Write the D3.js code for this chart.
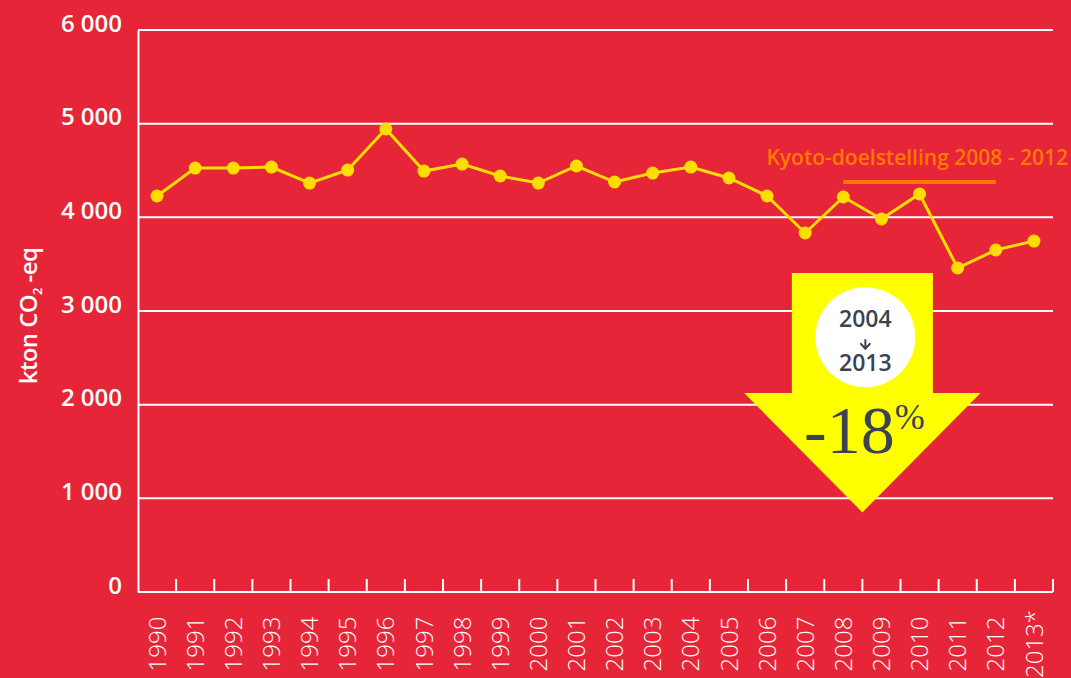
<!DOCTYPE html>
<html>
<head>
<meta charset="utf-8">
<script src="https://cdn.jsdelivr.net/npm/d3@7"></script>
<style>
  html, body { margin: 0; padding: 0; background: #e62538; }
  svg { display: block; }
</style>
</head>
<body>
<div id="chart"></div>
<script>
// data
const years = ["1990","1991","1992","1993","1994","1995","1996","1997","1998","1999","2000","2001",
               "2002","2003","2004","2005","2006","2007","2008","2009","2010","2011","2012","2013*"];
const emissions = [4228, 4526, 4526, 4537, 4366, 4505, 4943, 4494, 4569, 4441, 4366, 4548,
                   4377, 4473, 4537, 4420, 4228, 3833, 4217, 3982, 4249, 3459, 3651, 3747];
const yTicks = [0, 1000, 2000, 3000, 4000, 5000, 6000];
const kyotoTarget = 4377;
const kyotoYears = ["2008", "2012"];
const kyotoLabel = "Kyoto-doelstelling 2008 - 2012";
const changeFrom = "2004", changeTo = "2013", changeLabel = "-18";

const width = 1071, height = 678;
const margin = { top: 30, right: 18, bottom: 86, left: 138 };
const innerW = width - margin.left - margin.right;
const innerH = height - margin.top - margin.bottom;

const svg = d3.select("#chart").append("svg")
    .attr("width", width)
    .attr("height", height);

svg.append("rect").attr("width", width).attr("height", height).attr("fill", "#e62538");

const g = svg.append("g").attr("transform", `translate(${margin.left},${margin.top})`);

const x = d3.scaleBand().domain(years).range([0, innerW]);
const y = d3.scaleLinear().domain([0, 6000]).range([innerH, 0]);
const cx = d => x(d) + x.bandwidth() / 2;

// gridlines
g.selectAll(".grid")
    .data(yTicks.slice(1))
    .enter().append("line")
    .attr("x1", 0).attr("x2", innerW)
    .attr("y1", d => y(d)).attr("y2", d => y(d))
    .attr("stroke", "#fff").attr("stroke-width", 2);

// y axis
const yAxis = g.append("g")
    .call(d3.axisLeft(y).tickValues(yTicks).tickSize(0).tickPadding(16)
        .tickFormat(d => d3.format(",")(d).replace(",", " ")));
yAxis.select(".domain").attr("stroke", "#fff").attr("stroke-width", 2);
yAxis.selectAll("text")
    .attr("fill", "#fff")
    .attr("dy", "0.05em")
    .style("font-family", "'Open Sans', sans-serif")
    .style("font-weight", 600)
    .style("font-size", "24px");

// x axis: ticks between categories
const xAxisG = g.append("g").attr("transform", `translate(0,${innerH})`);
xAxisG.append("line")
    .attr("x1", 0).attr("x2", innerW).attr("y1", 0).attr("y2", 0)
    .attr("stroke", "#fff").attr("stroke-width", 2);
xAxisG.selectAll(".tk")
    .data(years.slice(1).concat(["end"]))
    .enter().append("line")
    .attr("x1", (d, i) => i < years.length - 1 ? x(d) : innerW)
    .attr("x2", (d, i) => i < years.length - 1 ? x(d) : innerW)
    .attr("y1", 0).attr("y2", -13)
    .attr("stroke", "#fff").attr("stroke-width", 2);
xAxisG.selectAll(".lbl")
    .data(years)
    .enter().append("text")
    .attr("transform", d => `translate(${cx(d)},52) rotate(-90)`)
    .attr("text-anchor", "middle")
    .attr("dy", "0.36em")
    .attr("fill", "#fff")
    .style("font-family", "'Open Sans', sans-serif")
    .style("font-weight", 300)
    .style("font-size", "24px")
    .text(d => d);

// y axis title
svg.append("text")
    .attr("transform", "translate(37,316) rotate(-90)")
    .attr("text-anchor", "middle")
    .attr("fill", "#fff")
    .style("font-family", "'Open Sans', sans-serif")
    .style("font-weight", 600)
    .style("font-size", "24px")
    .style("letter-spacing", "-0.6px")
    .html('kton CO<tspan font-size="13px" dy="5">2</tspan><tspan dy="-5"> -eq</tspan>');

// Kyoto target
g.append("line")
    .attr("x1", cx(kyotoYears[0])).attr("x2", cx(kyotoYears[1]))
    .attr("y1", y(kyotoTarget)).attr("y2", y(kyotoTarget))
    .attr("stroke", "#ff7a00").attr("stroke-width", 4);
g.append("text")
    .attr("x", innerW + 15)
    .attr("y", y(kyotoTarget) - 17)
    .attr("text-anchor", "end")
    .attr("fill", "#ff7a00")
    .style("font-family", "'Open Sans', sans-serif")
    .style("font-weight", 600)
    .style("font-size", "21px")
    .text(kyotoLabel);

// big arrow annotation (between 2008 and 2009)
const ax = x("2009");
const bw = x.bandwidth();
const arrowPts = [
    [ax - 1.85 * bw, y(3405)], [ax + 1.85 * bw, y(3405)],
    [ax + 1.85 * bw, y(2124)], [ax + 3.1 * bw, y(2124)],
    [ax, y(850)],
    [ax - 3.1 * bw, y(2124)], [ax - 1.85 * bw, y(2124)]
];
g.append("path")
    .attr("d", d3.line()(arrowPts) + "Z")
    .attr("fill", "#ffff00");

const bc = y(2720);
const bx = ax + 3;
g.append("circle")
    .attr("cx", bx).attr("cy", bc)
    .attr("r", 50).attr("fill", "#fff");
const badge = g.append("text")
    .attr("text-anchor", "middle")
    .attr("fill", "#3b4350")
    .style("font-family", "'Open Sans', sans-serif")
    .style("font-weight", 600)
    .style("font-size", "23px");
badge.append("tspan").attr("x", bx).attr("y", bc - 10).text(changeFrom);
badge.append("tspan").attr("x", bx).attr("y", bc + 34).text(changeTo);
// small down arrow between the years
g.append("path")
    .attr("d", `M${bx},${bc + 2}V${bc + 11}M${bx - 5},${bc + 6}L${bx},${bc + 11.5}L${bx + 5},${bc + 6}`)
    .attr("fill", "none")
    .attr("stroke", "#3b4350")
    .attr("stroke-width", 2);

const pct = g.append("text")
    .attr("x", ax + 2).attr("y", y(1485))
    .attr("text-anchor", "middle")
    .attr("fill", "#3b4350")
    .style("font-family", "'Liberation Serif', serif")
    .style("font-size", "68px")
    .text(changeLabel);
pct.append("tspan")
    .attr("dy", "-24")
    .style("font-size", "36px")
    .text("%");

// line + dots
g.append("path")
    .datum(emissions)
    .attr("fill", "none")
    .attr("stroke", "#ffdd00")
    .attr("stroke-width", 3)
    .attr("d", d3.line()
        .x((d, i) => cx(years[i]))
        .y(d => y(d)));

g.selectAll(".dot")
    .data(emissions)
    .enter().append("circle")
    .attr("cx", (d, i) => cx(years[i]))
    .attr("cy", d => y(d))
    .attr("r", 6.5)
    .attr("fill", "#ffdd00");
</script>
</body>
</html>
